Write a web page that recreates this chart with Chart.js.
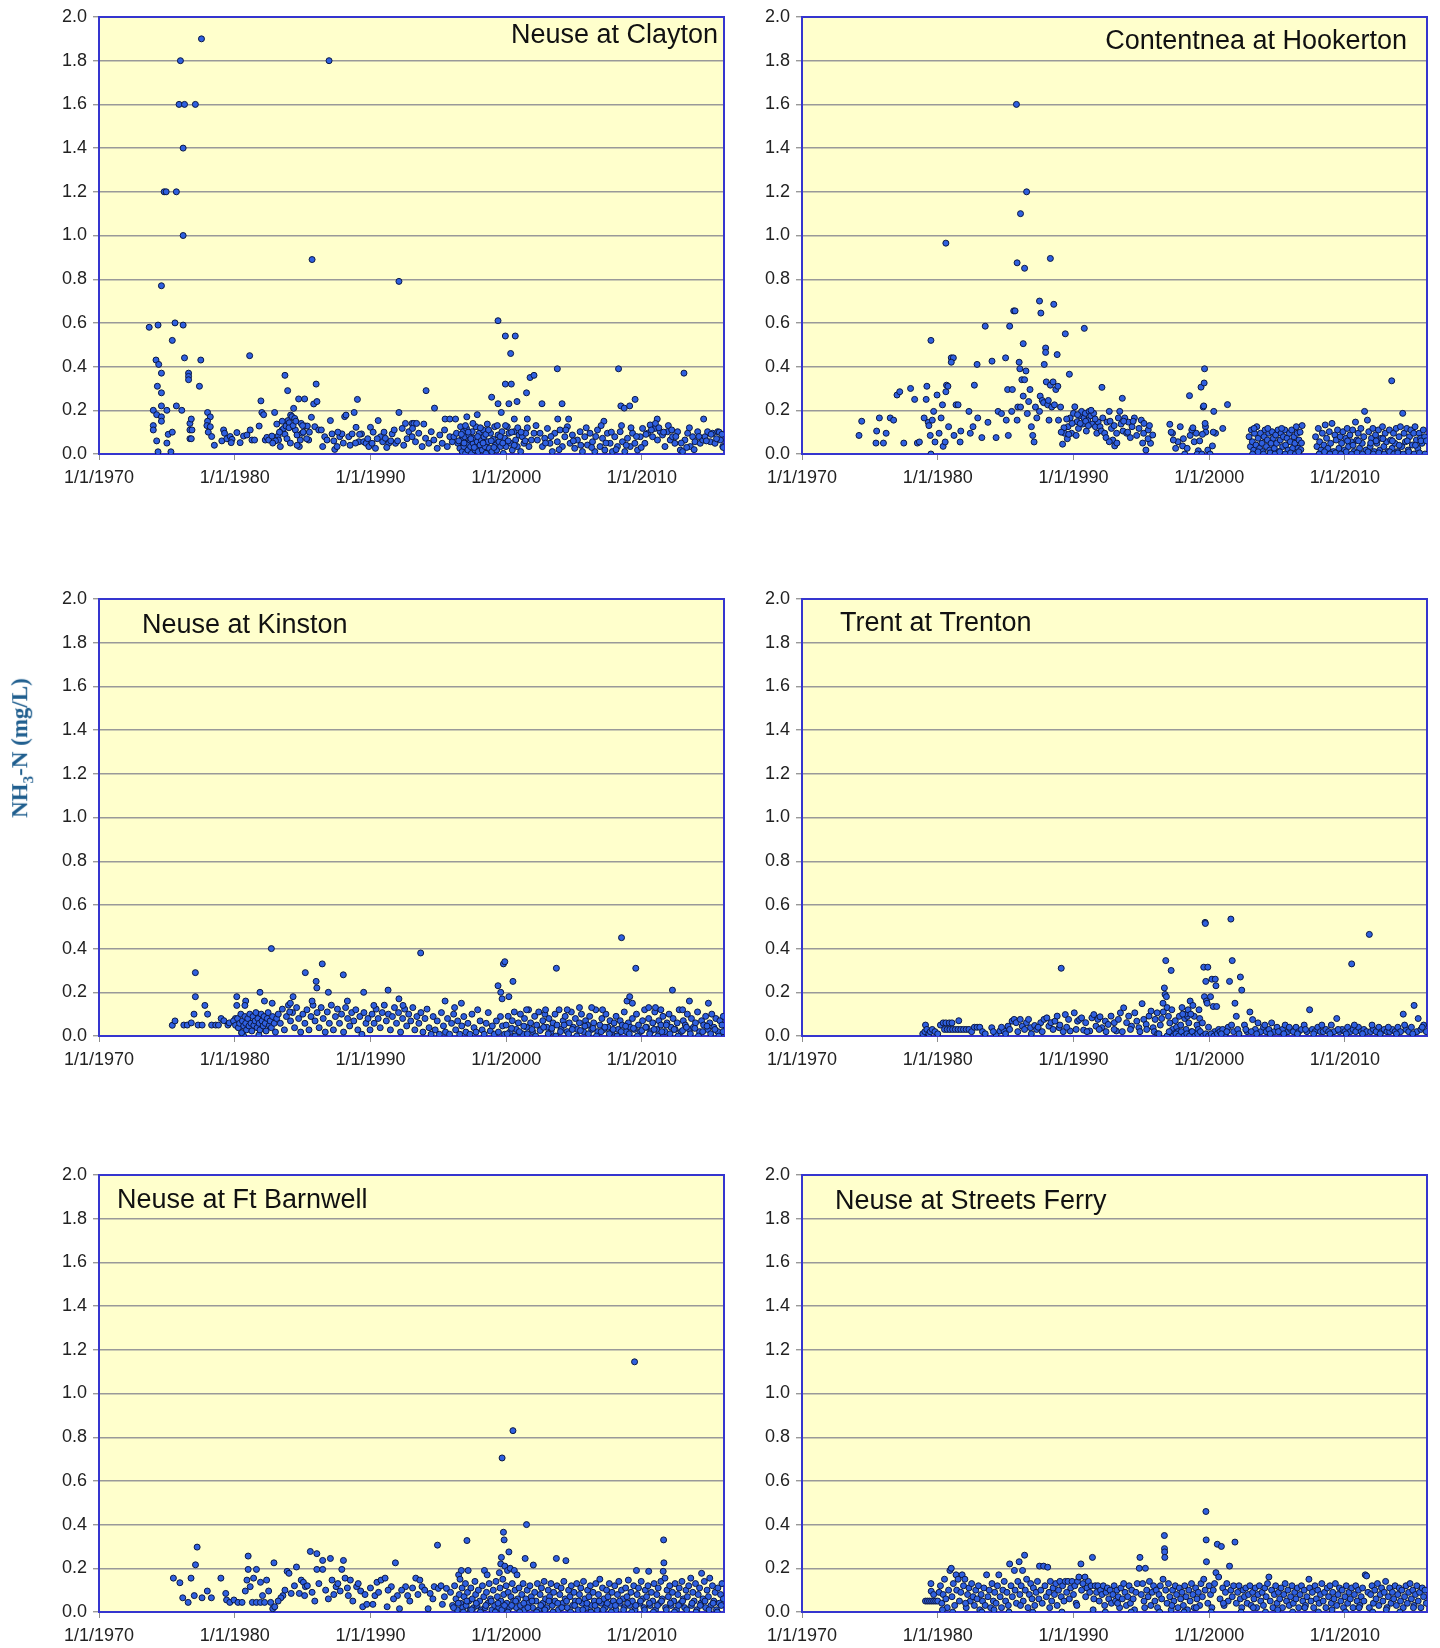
<!DOCTYPE html>
<html>
<head>
<meta charset="utf-8">
<title>NH3-N at six stations</title>
<script src="https://cdn.jsdelivr.net/npm/chart.js@4.4.1/dist/chart.umd.min.js"></script>
<style>
  body { margin: 0; background: #fff; width: 1440px; height: 1648px; overflow: hidden; position: relative; }
  canvas { position: absolute; }
  #ylab {
    position: absolute; left: 22px; top: 748px;
    transform: translate(-50%, -50%) rotate(-90deg);
    font: bold 23px "Liberation Serif", "Times New Roman", serif;
    color: #1f5e8e; white-space: nowrap;
  }
  #ylab sub { font-size: 0.65em; }
</style>
</head>
<body>
<canvas id="c1" width="730" height="490" style="left:0;top:0"></canvas>
<canvas id="c2" width="710" height="490" style="left:730px;top:0"></canvas>
<canvas id="c3" width="730" height="490" style="left:0;top:582px"></canvas>
<canvas id="c4" width="710" height="490" style="left:730px;top:582px"></canvas>
<canvas id="c5" width="730" height="490" style="left:0;top:1158px"></canvas>
<canvas id="c6" width="710" height="490" style="left:730px;top:1158px"></canvas>
<div id="ylab">NH<sub>3</sub>-N (mg/L)</div>
<script>
// axis ranges and tick labels
const xMin = 1970
const xMax = 2016.05
const xTickYears = [1970, 1980, 1990, 2000, 2010]
const yTickValues = [0, 0.2, 0.4, 0.6, 0.8, 1.0, 1.2, 1.4, 1.6, 1.8, 2.0]

// [decimal year, mg/L]
const claytonPts = [
  [1973.7,0.58],[1974.35,0.59],[1974.6,0.77],[1974.8,1.2],[1974.95,1.2],[1975.7,1.2],[1976.0,1.8],[1975.9,1.6],[1976.3,1.6],[1977.1,1.6],[1976.2,1.4],[1976.2,1.0],[1977.55,1.9],[1975.6,0.6],[1976.2,0.59],[1975.4,0.52],
  [1974.2,0.43],[1974.4,0.41],[1974.6,0.37],[1974.3,0.31],[1974.6,0.28],[1976.3,0.44],[1977.5,0.43],[1976.6,0.37],[1976.6,0.355],[1976.6,0.34],[1977.4,0.31],
  [1974.6,0.22],[1975.7,0.22],[1976.1,0.2],[1974.0,0.2],[1974.25,0.18],[1974.6,0.17],[1974.6,0.15],[1975.0,0.2],[1974.0,0.13],[1974.0,0.11],[1975.1,0.09],[1975.4,0.1],[1974.25,0.06],[1975.0,0.05],[1974.35,0.01],[1975.3,0.01],
  [1976.7,0.14],[1976.8,0.16],[1976.7,0.11],[1976.85,0.11],[1976.7,0.07],[1976.8,0.07],
  [1978.0,0.19],[1978.2,0.17],[1978.0,0.15],[1977.95,0.13],[1978.2,0.125],[1978.05,0.10],[1978.3,0.08],[1978.5,0.04],
  [1979.18,0.11],[1979.25,0.095],[1979.05,0.06],[1979.42,0.07],[1979.67,0.08],[1979.8,0.067],[1979.74,0.052],[1980.16,0.098],[1980.4,0.052],[1980.65,0.082],[1980.9,0.087],[1981.14,0.11],[1981.27,0.064],[1981.46,0.064],[1981.8,0.128],[1981.93,0.243],[1982.0,0.19],[1982.13,0.18],[1982.25,0.064],[1982.37,0.076],[1982.5,0.064],[1982.74,0.082],[1982.94,0.19],[1983.1,0.137],[1983.2,0.082],[1983.23,0.064],[1983.36,0.034],[1983.48,0.11],[1983.6,0.117],[1983.78,0.128],[1983.92,0.153],[1984.02,0.143],[1984.12,0.178],[1984.22,0.171],[1984.34,0.209],[1984.42,0.163],[1984.47,0.11],[1984.59,0.087],[1984.71,0.252],[1984.76,0.034],[1984.83,0.064],[1984.96,0.095],[1985.15,0.252],[1985.2,0.128],[1985.35,0.128],[1985.45,0.064],[1985.65,0.168],[1985.82,0.229],[1985.9,0.125],[1986.06,0.24],[1986.19,0.11],[1986.38,0.11],[1986.48,0.034],[1986.63,0.079],[1986.8,0.064],[1987.05,0.153],[1987.17,0.092],[1987.37,0.021],[1987.54,0.034],[1987.74,0.079],[1987.9,0.092],[1988.1,0.171],[1988.2,0.178],[1988.4,0.079],[1988.65,0.092],[1988.8,0.19],[1988.94,0.122],[1989.04,0.25],[1989.14,0.056],[1989.34,0.092],[1989.5,0.056],[1989.68,0.049],[1989.88,0.034],[1990.0,0.122],[1990.12,0.049],[1990.37,0.026],[1990.57,0.153],[1990.74,0.079],[1990.9,0.056],[1991.1,0.072],[1991.35,0.049],[1991.6,0.092],[1991.85,0.049],[1992.1,0.19],[1992.34,0.117],[1992.58,0.14],[1992.83,0.102],[1993.07,0.14],
  [1981.1,0.45],[1983.7,0.36],[1983.9,0.29],[1986.0,0.32],[1985.7,0.89],[1986.95,1.8],[1992.1,0.79],
  [1983.5,0.15],[1983.7,0.09],[1983.85,0.07],[1984.0,0.12],[1984.1,0.05],[1984.3,0.13],[1984.5,0.15],[1984.6,0.04],[1984.9,0.14],[1985.05,0.1],[1985.3,0.07],[1985.5,0.1],[1985.0,0.13],[1983.3,0.1],[1983.0,0.06],[1982.8,0.05],
  [1987.3,0.06],[1987.6,0.1],[1988.0,0.05],[1988.5,0.04],[1988.9,0.05],[1989.2,0.09],[1989.8,0.07],[1990.2,0.1],[1990.5,0.07],[1991.0,0.1],[1991.2,0.03],[1991.5,0.06],[1991.75,0.11],[1992.0,0.06],[1992.45,0.04],[1992.7,0.07],
  [1993.07,0.079],[1993.32,0.056],[1993.56,0.095],[1993.81,0.034],[1994.06,0.072],[1994.3,0.049],[1994.48,0.102],[1994.67,0.064],[1994.92,0.026],[1995.11,0.087],[1995.29,0.049],[1995.46,0.11],[1995.66,0.034],[1995.85,0.079],[1996.03,0.056],[1993.93,0.137],
  [1994.1,0.29],[1994.72,0.21],[1993.2,0.14],[1993.4,0.14],[1993.1,0.117],[1995.5,0.16],[1995.85,0.16],[1996.27,0.16],[1997.1,0.17],[1997.87,0.18],
  [1996.15,0.079],[1996.34,0.095],[1996.44,0.049],[1996.59,0.026],[1996.64,0.125],[1996.69,0.064],[1996.76,0.011],[1996.84,0.102],[1996.89,0.034],[1996.94,0.079],[1997.01,0.003],[1997.08,0.117],[1997.13,0.049],[1997.18,0.018],[1997.25,0.087],[1997.33,0.064],[1997.38,0.034],[1997.45,0.003],[1997.5,0.102],[1997.57,0.049],[1997.62,0.072],[1997.7,0.018],[1997.77,0.125],[1997.82,0.034],[1997.87,0.056],[1997.94,0.011],[1998.02,0.095],[1998.07,0.041],[1998.17,0.064],[1998.24,0.018],[1998.31,0.11],[1998.36,0.079],[1998.44,0.034],[1998.51,0.003],[1998.61,0.137],[1998.66,0.056],[1998.76,0.026],[1998.85,0.095],[1998.95,0.011],[1999.05,0.067],[1999.15,0.125],[1999.22,0.041],[1999.3,0.018],[1999.4,0.087],[1999.47,0.056],[1999.59,0.034],[1999.69,0.102],[1999.79,0.003],[1999.89,0.072],[1999.99,0.034],[2000.08,0.125],[2000.21,0.095],[2000.33,0.049],[2000.45,0.018],[2000.58,0.102],[2000.7,0.064],[2000.82,0.034],[2000.95,0.087],[2001.07,0.011],[2001.19,0.079],[2001.31,0.049],[2001.44,0.095],[2001.68,0.034],[2001.86,0.064],[2002.05,0.095],
  [1996.5,0.06],[1996.7,0.09],[1996.9,0.05],[1997.0,0.13],[1997.2,0.1],[1997.4,0.07],[1997.55,0.14],[1997.65,0.03],[1997.9,0.08],[1998.1,0.12],[1998.3,0.05],[1998.5,0.09],[1998.7,0.11],[1998.9,0.06],[1999.1,0.03],[1999.35,0.13],[1999.55,0.08],[1999.75,0.05],[1999.95,0.13],[2000.15,0.06],[2000.4,0.1],[2000.6,0.04],[2000.85,0.12],[2001.1,0.1],[2001.4,0.06],
  [1999.4,0.61],[1999.94,0.54],[2000.67,0.54],[2000.33,0.46],[1999.94,0.32],[2000.38,0.32],[1998.93,0.26],[1999.4,0.23],[2000.2,0.23],[2000.8,0.24],[1999.64,0.19],[2001.5,0.28],[2001.76,0.35],[2002.05,0.36],[2002.64,0.23],[2003.77,0.39],[2004.12,0.23],[2008.28,0.39],[2008.45,0.22],[2008.7,0.21],[2009.1,0.22],[2009.5,0.25],[2013.1,0.37],[2014.55,0.16],[2011.13,0.16],[2007.2,0.15],[2004.6,0.16],[2003.8,0.16],[2001.56,0.16],[2001.56,0.12],[2000.6,0.16],
  [2002.3,0.064],[2002.5,0.095],[2002.67,0.034],[2002.84,0.072],[2003.04,0.117],[2003.23,0.049],[2003.4,0.011],[2003.58,0.095],[2003.77,0.056],[2003.97,0.11],[2004.14,0.034],[2004.32,0.079],[2004.51,0.125],[2004.71,0.049],[2004.88,0.087],[2005.05,0.026],[2005.25,0.064],[2005.45,0.102],[2005.62,0.011],[2005.79,0.079],[2005.99,0.041],[2006.18,0.095],[2006.36,0.056],[2006.53,0.011],[2006.73,0.11],[2006.92,0.034],[2007.1,0.072],[2007.27,0.018],[2007.46,0.095],[2007.66,0.049],[2007.83,0.011],[2008.0,0.079],[2008.2,0.034],[2008.4,0.102],[2008.57,0.056],[2008.74,0.011],[2008.94,0.072],[2009.14,0.034],[2009.31,0.095],[2009.48,0.049],[2009.68,0.018],[2009.88,0.079],[2010.05,0.117],[2010.22,0.049],[2010.42,0.095],[2010.61,0.133],[2010.79,0.079],[2010.96,0.117],[2011.15,0.064],[2011.35,0.102],[2011.52,0.087],[2011.7,0.034],[2011.89,0.102],[2012.09,0.064],[2012.26,0.079],[2012.43,0.049],[2012.63,0.102],[2012.83,0.018],[2013.0,0.011],[2013.17,0.064],[2013.37,0.095],[2013.57,0.034],[2013.74,0.079],[2013.91,0.056],[2014.11,0.102],[2014.3,0.049],[2014.48,0.064],[2014.65,0.079],[2014.84,0.102],[2015.04,0.056],[2015.21,0.095],[2015.39,0.049],[2015.59,0.102],[2015.79,0.064],[2015.96,0.034],
  [2002.2,0.13],[2002.9,0.05],[2003.3,0.08],[2003.9,0.02],[2004.4,0.11],[2004.95,0.06],[2005.5,0.04],[2005.9,0.12],[2006.3,0.03],[2006.6,0.08],[2007.0,0.13],[2007.35,0.05],[2007.75,0.1],[2008.1,0.02],[2008.5,0.13],[2008.85,0.04],[2009.2,0.12],[2009.6,0.08],[2009.95,0.03],[2010.3,0.09],[2010.7,0.11],[2011.0,0.14],[2011.25,0.12],[2011.6,0.1],[2011.95,0.13],[2012.2,0.11],[2012.5,0.08],[2012.9,0.05],[2013.3,0.03],[2013.5,0.12],[2013.85,0.02],[2014.2,0.08],[2014.75,0.06],[2015.1,0.09],[2015.5,0.07],[2015.7,0.1],[2015.9,0.09],[2016.0,0.03]
]

const contentneaPts = [
  [1974.2,0.085],[1974.4,0.15],[1975.5,0.105],[1975.45,0.05],[1975.7,0.165],[1976.0,0.05],[1976.2,0.095],[1976.5,0.165],[1976.75,0.155],[1977.0,0.27],[1977.2,0.285],[1977.5,0.05],[1978.0,0.30],[1978.3,0.25],[1978.5,0.05],[1978.65,0.055],[1979.0,0.165],[1979.2,0.31],[1979.15,0.25],[1979.3,0.145],[1979.35,0.13],[1979.45,0.085],[1979.5,0.0],[1979.5,0.52],[1979.6,0.155],[1979.7,0.195],[1979.8,0.055],[1979.95,0.27],[1980.1,0.095],[1980.25,0.165],[1980.35,0.225],[1980.4,0.035],[1980.55,0.055],[1980.6,0.285],[1980.65,0.315],[1980.75,0.31],[1980.8,0.125],[1980.6,0.965],[1981.0,0.44],[1981.15,0.44],[1981.0,0.42],[1981.2,0.085],[1981.35,0.225],[1981.5,0.225],[1981.65,0.055],[1981.7,0.105],[1982.3,0.195],[1982.4,0.095],[1982.6,0.125],[1982.7,0.315],[1982.9,0.41],[1982.95,0.165],[1983.25,0.075],[1983.5,0.585],[1983.7,0.145],[1984.0,0.425],[1984.3,0.075],[1984.45,0.195],[1984.7,0.185],[1985.0,0.44],[1985.05,0.155],[1985.15,0.295],[1985.2,0.085],[1985.3,0.585],[1985.5,0.295],[1985.45,0.195],[1985.6,0.655],[1985.7,0.655],[1985.8,1.6],[1985.85,0.875],[1985.85,0.155],[1985.9,0.215],[1986.0,0.42],[1986.05,0.39],[1986.1,0.215],[1986.2,0.34],[1986.3,0.265],[1986.1,1.1],[1986.3,0.505],[1986.4,0.85],[1986.5,0.38],[1986.4,0.34],[1986.55,1.2],[1986.6,0.185],[1986.7,0.24],[1986.8,0.295],[1986.9,0.125],[1987.0,0.085],[1987.1,0.055],[1987.2,0.215],[1987.3,0.165],[1987.5,0.195],[1987.55,0.265],[1987.5,0.70],[1987.6,0.645],[1987.7,0.245],[1987.8,0.235],[1987.85,0.41],[1987.95,0.485],[1987.95,0.465],[1988.0,0.33],[1988.1,0.225],[1988.15,0.245],[1988.2,0.155],[1988.3,0.315],[1988.4,0.215],[1988.5,0.33],[1988.3,0.895],[1988.55,0.685],[1988.6,0.225],[1988.7,0.295],[1988.8,0.455],[1988.85,0.31],[1988.9,0.155],[1989.05,0.215],[1989.2,0.045],[1989.35,0.095],[1989.4,0.55],[1989.7,0.365],[1990.8,0.575],[1992.1,0.305],[1993.6,0.255],
  [1989.6,0.125],[1989.76,0.165],[1989.86,0.095],[1990.0,0.186],[1990.1,0.216],[1990.2,0.085],[1990.27,0.148],[1990.37,0.117],[1990.47,0.175],[1990.6,0.195],[1990.68,0.137],[1990.78,0.165],[1990.88,0.186],[1990.95,0.105],[1991.05,0.155],[1991.15,0.195],[1991.28,0.175],[1991.39,0.137],[1991.49,0.186],[1991.62,0.125],[1991.72,0.095],[1991.82,0.146],[1991.96,0.125],[1992.06,0.105],[1992.16,0.165],[1992.3,0.095],[1992.4,0.075],[1992.47,0.146],
  [1989.9,0.14],[1990.3,0.18],[1990.5,0.14],[1990.9,0.15],[1991.1,0.13],[1991.3,0.2],[1991.6,0.16],[1989.5,0.16],[1989.3,0.12],[1989.1,0.1],[1989.55,0.07],[1989.65,0.09],
  [1992.64,0.195],[1992.8,0.117],[1992.9,0.064],[1993.04,0.037],[1993.18,0.095],[1993.31,0.165],[1993.41,0.195],[1993.51,0.137],[1993.65,0.105],[1993.78,0.165],[1993.92,0.095],[1994.05,0.146],[1994.19,0.075],[1994.32,0.125],[1994.49,0.165],[1994.66,0.085],[1994.83,0.117],[1995.0,0.155],[1995.17,0.095],[1995.34,0.018],[1995.51,0.11],[1995.68,0.049],[1995.84,0.087],[1992.64,0.056],
  [1993.0,0.13],[1993.7,0.15],[1994.0,0.1],[1994.4,0.15],[1995.2,0.14],[1995.6,0.13],[1995.5,0.07],[1995.1,0.05],[1992.7,0.15],[1993.2,0.05],
  [1997.1,0.136],[1997.3,0.095],[1997.53,0.026],[1997.7,0.056],[1997.87,0.125],[1998.04,0.037],[1998.2,0.0],[1998.55,0.267],[1998.6,0.085],[1998.9,0.056],[1999.05,0.095],[1999.2,0.015],[1999.4,0.306],[1999.56,0.215],[1999.63,0.325],[1999.66,0.39],[1999.6,0.22],[1999.73,0.125],[1999.9,0.018],[2000.07,0.0],[2000.24,0.037],[2000.34,0.195],[2000.47,0.095],[2001.0,0.117],[2001.35,0.226],[1997.36,0.064],[1998.38,0.026],[1998.72,0.11],[1999.12,0.0],[1999.46,0.0],[1999.7,0.14],[1999.75,0.1],[2000.3,0.1],[1997.2,0.1],[1998.1,0.07],[1998.8,0.12],[1999.3,0.06],[1999.5,0.09],
  [2002.94,0.079],[2003.04,0.034],[2003.11,0.110],[2003.18,0.056],[2003.28,0.018],[2003.34,0.095],[2003.45,0.041],[2003.51,0.125],[2003.61,0.072],[2003.72,0.026],[2003.78,0.095],[2003.89,0.049],[2003.95,0.011],[2004.05,0.079],[2004.12,0.110],[2004.22,0.034],[2004.29,0.064],[2004.39,0.095],[2004.46,0.018],[2004.56,0.049],[2004.63,0.102],[2004.73,0.072],[2004.8,0.026],[2004.9,0.087],[2004.97,0.049],[2005.07,0.110],[2005.14,0.011],[2005.24,0.064],[2005.3,0.095],[2005.41,0.034],[2005.47,0.079],[2005.57,0.110],[2005.64,0.041],[2005.74,0.072],[2005.81,0.018],[2005.91,0.095],[2005.98,0.056],[2006.08,0.110],[2006.15,0.026],[2006.25,0.079],[2006.32,0.049],[2006.42,0.125],[2006.49,0.095],[2006.55,0.026],[2006.62,0.064],[2003.31,0.117],[2004.32,0.117],[2005.34,0.117],
  [2006.7,0.1],[2006.8,0.05],[2006.85,0.13],[2006.75,0.02],[2003.2,0.0],[2003.6,0.01],[2004.0,0.0],[2004.5,0.005],[2004.85,0.0],[2005.2,0.01],[2005.6,0.0],[2006.0,0.005],[2006.35,0.0],[2006.6,0.01],
  [2007.84,0.079],[2007.94,0.034],[2008.04,0.117],[2008.14,0.056],[2008.24,0.018],[2008.34,0.095],[2008.45,0.041],[2008.55,0.133],[2008.65,0.072],[2008.75,0.026],[2008.85,0.102],[2008.95,0.049],[2009.05,0.14],[2009.16,0.011],[2009.26,0.087],[2009.36,0.064],[2009.46,0.11],[2009.56,0.026],[2009.66,0.079],[2009.76,0.049],[2009.86,0.102],[2009.97,0.018],[2010.07,0.072],[2010.17,0.117],[2010.27,0.034],[2010.37,0.087],[2010.47,0.056],[2010.57,0.11],[2010.68,0.011],[2010.78,0.146],[2010.88,0.064],[2010.98,0.095],[2011.08,0.026],[2011.18,0.117],[2011.28,0.049],[2011.39,0.079],[2011.45,0.195],[2011.55,0.018],[2011.66,0.155],[2011.76,0.102],[2011.86,0.034],[2011.96,0.072],[2012.06,0.117],[2012.16,0.011],[2012.26,0.087],[2012.36,0.049],[2012.47,0.11],[2012.57,0.018],[2012.67,0.072],[2012.77,0.125],[2012.87,0.034],[2012.97,0.095],[2013.07,0.056],[2013.18,0.011],[2013.28,0.11],[2013.38,0.064],[2013.45,0.335],[2013.48,0.026],[2013.58,0.095],[2013.68,0.049],[2013.78,0.117],[2013.89,0.011],[2013.99,0.079],[2014.09,0.125],[2014.19,0.034],[2014.26,0.186],[2014.36,0.095],[2014.46,0.056],[2014.56,0.117],[2014.66,0.018],[2014.76,0.079],[2014.86,0.11],[2014.97,0.041],[2015.07,0.095],[2015.17,0.125],[2015.27,0.064],[2015.37,0.026],[2015.47,0.095],[2015.57,0.072],[2015.68,0.049],[2015.78,0.11],[2015.88,0.079],
  [2008.1,0.0],[2008.5,0.01],[2008.9,0.0],[2009.3,0.005],[2009.7,0.0],[2010.1,0.01],[2010.5,0.0],[2010.9,0.005],[2011.3,0.0],[2011.7,0.01],[2012.1,0.0],[2012.5,0.005],[2012.9,0.0],[2013.3,0.01],[2013.6,0.0],[2013.9,0.005],[2014.3,0.0],[2014.7,0.01],[2015.1,0.0],[2015.5,0.005],[2015.9,0.0],
  [2010.2,0.06],[2010.6,0.04],[2011.0,0.06],[2011.9,0.05],[2012.3,0.06],[2012.8,0.07],[2013.5,0.06],[2014.0,0.04],[2014.6,0.06],[2015.2,0.04],[2015.6,0.06],[2016.0,0.06]
]

const kinstonPts = [
  [1975.4,0.049],[1975.6,0.069],[1976.25,0.05],[1976.5,0.05],[1976.8,0.06],[1977.0,0.1],[1977.1,0.18],[1977.1,0.29],[1977.3,0.05],[1977.6,0.05],[1977.8,0.14],[1978.0,0.1],[1978.3,0.05],[1978.6,0.05],[1978.8,0.05],[1979.0,0.08],[1979.2,0.07],[1979.5,0.05],[1979.6,0.06],
  [1980.15,0.18],[1980.15,0.14],[1980.05,0.08],[1980.27,0.04],[1980.51,0.015],[1980.66,0.0],[1980.81,0.16],[1980.75,0.14],[1981.86,0.2],[1981.78,0.005],[1982.19,0.16],[1982.76,0.15],[1982.7,0.40],
  [1979.91,0.069],[1980.06,0.049],[1980.21,0.08],[1980.27,0.038],[1980.36,0.058],[1980.45,0.1],[1980.51,0.015],[1980.57,0.069],[1980.66,0.046],[1980.75,0.089],[1980.81,0.058],[1980.87,0.028],[1980.96,0.08],[1981.05,0.046],[1981.11,0.1],[1981.2,0.058],[1981.26,0.023],[1981.35,0.089],[1981.41,0.049],[1981.5,0.069],[1981.56,0.107],[1981.65,0.038],[1981.71,0.08],[1981.8,0.058],[1981.86,0.028],[1981.95,0.1],[1982.01,0.069],[1982.1,0.046],[1982.16,0.089],[1982.25,0.058],[1982.31,0.023],[1982.4,0.08],[1982.46,0.107],[1982.55,0.049],[1982.61,0.069],[1982.7,0.038],[1982.79,0.089],[1982.91,0.058],[1983.0,0.018],[1983.09,0.08],
  [1983.21,0.1],[1983.36,0.058],[1983.51,0.123],[1983.66,0.028],[1983.81,0.089],[1983.96,0.141],[1984.11,0.069],[1984.26,0.107],[1984.41,0.038],[1984.56,0.13],[1984.71,0.08],[1984.86,0.018],[1985.02,0.1],[1985.17,0.058],[1985.32,0.12],[1985.47,0.028],[1985.62,0.089],[1985.77,0.141],[1985.92,0.069],[1986.07,0.107],[1986.22,0.038],[1986.37,0.13],[1986.52,0.08],[1986.67,0.018],[1986.82,0.11],[1986.97,0.058],[1987.12,0.141],[1987.27,0.028],[1987.42,0.089],[1987.57,0.123],[1987.72,0.058],[1987.87,0.1],[1988.02,0.018],[1988.17,0.13],[1988.32,0.08],[1988.47,0.046],[1988.62,0.107],[1988.77,0.069],[1988.92,0.12],[1989.07,0.028],[1989.22,0.089],[1989.37,0.008],[1989.52,0.107],[1989.67,0.058],[1989.82,0.08],[1989.97,0.028],
  [1984.3,0.18],[1984.1,0.15],[1984.05,0.11],[1985.2,0.29],[1985.7,0.16],[1986.0,0.25],[1986.05,0.22],[1986.45,0.33],[1986.9,0.2],[1988.0,0.28],[1988.3,0.16],[1989.5,0.2],
  [1990.12,0.1],[1990.27,0.058],[1990.42,0.123],[1990.57,0.08],[1990.72,0.038],[1990.87,0.107],[1991.02,0.141],[1991.17,0.069],[1991.32,0.1],[1991.47,0.028],[1991.62,0.089],[1991.77,0.13],[1991.92,0.058],[1992.07,0.107],[1992.22,0.018],[1992.37,0.08],[1992.52,0.123],[1992.67,0.046],[1992.82,0.1],[1992.97,0.069],[1993.12,0.13],[1993.27,0.028],[1993.42,0.089],[1993.57,0.058],[1993.72,0.107],[1993.87,0.018],[1994.02,0.08],[1994.17,0.123],[1994.32,0.038],[1994.47,0.008],[1994.62,0.089],[1994.77,0.028],[1994.92,0.069],[1995.08,0.008],[1995.23,0.107],[1995.38,0.046],[1995.53,0.018],[1995.68,0.08],[1995.83,0.008],[1995.98,0.058],[1996.13,0.1],[1996.28,0.028],[1996.43,0.069],[1996.58,0.008],[1996.73,0.046],[1996.88,0.089],[1997.03,0.018],[1997.18,0.058],[1997.33,0.008],[1997.48,0.1],[1997.63,0.038],[1997.78,0.018],[1998.08,0.069],[1998.23,0.028],[1998.38,0.008],[1998.53,0.058],[1998.68,0.107],[1998.83,0.023],[1998.98,0.046],[1999.13,0.008],[1999.28,0.069],[1999.43,0.018],[1999.58,0.089],[1999.73,0.046],[1999.88,0.008],
  [1990.25,0.14],[1991.3,0.21],[1992.1,0.17],[1992.4,0.14],[1993.7,0.38],[1995.5,0.16],[1996.2,0.13],[1996.7,0.15],[1997.9,0.12],[1999.4,0.23],[1999.6,0.2],[1999.7,0.17],[1999.8,0.33],[1999.9,0.34],[2000.2,0.18],[2000.5,0.25],
  [2000.0,0.05],[2000.15,0.09],[2000.3,0.02],[2000.45,0.07],[2000.6,0.11],[2000.75,0.03],[2000.9,0.06],[2001.05,0.1],[2001.2,0.01],[2001.35,0.08],[2001.5,0.04],[2001.65,0.12],[2001.8,0.06],[2001.95,0.02],[2002.1,0.09],[2002.25,0.05],[2002.4,0.11],[2002.55,0.03],[2002.7,0.07],[2002.85,0.1],[2003.0,0.04],[2003.15,0.08],[2003.3,0.02],[2003.45,0.06],[2003.6,0.1],[2003.75,0.05],[2003.9,0.12],[2004.05,0.03],[2004.2,0.07],[2004.35,0.09],[2004.5,0.02],[2004.65,0.06],[2004.8,0.11],[2004.95,0.04],[2005.1,0.08],[2005.25,0.03],[2005.4,0.06],[2005.55,0.1],[2005.7,0.02],[2005.85,0.07],[2006.0,0.05],[2006.15,0.09],[2006.3,0.03],[2006.45,0.06],[2006.6,0.12],[2006.75,0.02],[2006.9,0.05],[2007.05,0.08],[2007.2,0.03],[2007.35,0.1],[2007.5,0.04],[2007.65,0.07],[2007.8,0.02],[2007.95,0.06],[2008.1,0.09],[2008.25,0.03],[2008.4,0.07],[2008.55,0.05],[2008.7,0.11],[2008.85,0.02],[2009.0,0.06],[2009.15,0.04],[2009.3,0.08],[2009.45,0.03],[2009.6,0.1],[2009.75,0.05],[2009.9,0.02],[2010.05,0.07],[2010.2,0.12],[2010.35,0.04],[2010.5,0.08],[2010.65,0.02],[2010.8,0.06],[2010.95,0.11],[2011.1,0.03],[2011.25,0.07],[2011.4,0.05],[2011.55,0.09],[2011.7,0.02],[2011.85,0.06],[2012.0,0.1],[2012.15,0.04],[2012.3,0.08],[2012.45,0.03],[2012.6,0.06],[2012.75,0.12],[2012.9,0.02],[2013.05,0.07],[2013.2,0.05],[2013.35,0.1],[2013.5,0.03],[2013.65,0.08],[2013.8,0.04],[2013.95,0.06],[2014.1,0.11],[2014.25,0.02],[2014.4,0.07],[2014.55,0.05],[2014.7,0.09],[2014.85,0.03],[2015.0,0.06],[2015.15,0.1],[2015.3,0.04],[2015.45,0.08],[2015.6,0.02],[2015.75,0.07],[2015.9,0.05],[2016.0,0.09],
  [2003.7,0.31],[2008.5,0.45],[2009.55,0.31],[2008.9,0.16],[2009.1,0.18],[2009.3,0.15],[2012.25,0.21],[2013.5,0.16],[2014.9,0.15],[2001.5,0.12],[2002.9,0.12],[2004.5,0.12],[2005.4,0.13],[2006.3,0.13],[2007.1,0.12],[2010.5,0.13],[2011.0,0.13],[2011.4,0.12],[2013.0,0.12],
  [2000.08,0.01],[2000.4,0.035],[2000.66,0.0],[2000.97,0.02],[2001.3,0.045],[2001.56,0.01],[2001.9,0.03],[2002.17,0.0],[2002.5,0.025],[2002.76,0.04],[2003.1,0.01],[2003.37,0.035],[2003.66,0.0],[2004.0,0.02],[2004.27,0.05],[2004.6,0.01],[2004.87,0.03],[2005.2,0.0],[2005.47,0.025],[2005.8,0.045],[2006.06,0.01],[2006.4,0.035],[2006.66,0.0],[2007.0,0.02],[2007.27,0.04],[2007.6,0.01],[2007.88,0.03],[2008.17,0.0],[2008.47,0.02],[2008.8,0.045],[2009.07,0.01],[2009.38,0.035],[2009.67,0.0],[2010.0,0.025],[2010.28,0.04],[2010.57,0.01],[2010.9,0.03],[2011.17,0.0],[2011.47,0.02],[2011.8,0.05],[2012.07,0.01],[2012.38,0.03],[2012.67,0.0],[2013.0,0.025],[2013.28,0.04],[2013.57,0.01],[2013.9,0.035],[2014.17,0.0],[2014.48,0.02],[2014.8,0.045],[2015.07,0.01],[2015.38,0.03],[2015.67,0.0],[2015.98,0.02]
]

const trentPts = [
  [1978.9,0.01],[1979.05,0.02],[1979.1,0.05],[1979.2,0.03],[1979.35,0.01],[1979.45,0.02],[1979.6,0.03],[1979.8,0.02],[1980.0,0.01],[1980.2,0.05],[1980.4,0.06],[1980.6,0.06],[1980.85,0.06],[1981.05,0.06],[1981.55,0.07],
  [1980.5,0.03],[1980.7,0.03],[1980.9,0.03],[1981.1,0.03],[1981.3,0.03],[1981.5,0.03],[1981.7,0.03],[1981.9,0.03],[1982.1,0.03],[1982.3,0.03],[1982.5,0.02],[1982.7,0.04],[1982.9,0.04],[1983.1,0.04],[1983.3,0.02],[1983.5,0.01],
  [1983.98,0.038],[1984.3,0.008],[1984.58,0.023],[1984.88,0.023],[1985.18,0.045],[1985.48,0.068],[1985.63,0.076],[1985.78,0.061],[1986.08,0.076],[1986.23,0.045],[1986.54,0.061],[1986.69,0.076],[1986.84,0.038],[1987.14,0.048],[1987.29,0.03],[1987.59,0.061],[1987.83,0.076],[1988.04,0.083],[1988.19,0.045],[1988.34,0.061],[1988.64,0.068],[1988.8,0.091],[1988.95,0.038],[1989.1,0.31],[1989.4,0.098],[1989.64,0.076],[1989.76,0.023],[1990.06,0.106],[1990.3,0.068],[1990.45,0.076],[1990.6,0.083],[1990.75,0.027],
  [1984.1,0.02],[1984.7,0.04],[1985.0,0.01],[1985.3,0.03],[1985.9,0.02],[1986.4,0.03],[1986.9,0.01],[1987.4,0.04],[1987.7,0.02],[1988.5,0.03],[1989.0,0.05],[1989.25,0.02],[1989.5,0.04],[1990.2,0.03],
  [1990.9,0.061],[1991.2,0.023],[1991.36,0.083],[1991.5,0.098],[1991.66,0.045],[1991.8,0.076],[1991.96,0.088],[1992.1,0.038],[1992.35,0.068],[1992.56,0.053],[1992.77,0.091],[1993.01,0.061],[1993.16,0.023],[1993.31,0.076],[1993.46,0.106],[1993.7,0.129],[1993.92,0.061],[1994.07,0.091],[1994.28,0.045],[1994.52,0.106],[1994.67,0.068],[1994.82,0.038],[1995.06,0.148],[1995.18,0.076],[1995.36,0.053],[1995.57,0.091],[1995.72,0.114],[1995.87,0.038],[1996.02,0.076],[1996.17,0.106],
  [1991.0,0.02],[1991.9,0.03],[1992.4,0.02],[1993.0,0.03],[1993.6,0.02],[1994.2,0.03],[1994.9,0.02],[1995.4,0.03],[1995.95,0.02],
  [1996.2,0.01],[1996.3,0.01],[1996.4,0.05],[1996.5,0.08],[1996.6,0.15],[1996.62,0.11],[1996.7,0.22],[1996.75,0.19],[1996.8,0.345],[1996.85,0.18],[1996.9,0.13],[1997.0,0.09],[1997.1,0.06],[1997.2,0.30],[1997.25,0.12],[1997.3,0.03],[1997.4,0.01],[1997.5,0.07],[1997.6,0.04],[1997.7,0.02],[1997.8,0.09],[1997.9,0.05],[1998.0,0.13],[1998.1,0.01],[1998.2,0.08],[1998.3,0.03],[1998.4,0.09],[1998.5,0.06],[1998.6,0.16],[1998.7,0.02],[1998.8,0.14],[1998.9,0.09],[1999.0,0.01],[1999.1,0.05],[1999.2,0.03],[1999.3,0.08],[1999.4,0.01],[1999.5,0.06],[1999.6,0.315],[1999.65,0.18],[1999.7,0.52],[1999.72,0.515],[1999.75,0.25],[1999.8,0.16],[1999.85,0.15],[1999.9,0.315],[1999.95,0.04],[2000.1,0.18],[2000.2,0.26],[2000.3,0.135],[2000.45,0.26],[2000.5,0.23],[2000.55,0.135],[2000.4,0.02],[2000.7,0.03],[2001.5,0.25],[2001.6,0.535],[2001.7,0.345],[2001.9,0.15],[2002.0,0.09],[2002.3,0.27],[2002.4,0.21],[2003.0,0.11],[2003.2,0.075],
  [1996.9,0.0],[1997.05,0.02],[1997.35,0.0],[1997.55,0.01],[1997.75,0.0],[1997.95,0.02],[1998.15,0.0],[1998.35,0.01],[1998.55,0.0],[1998.75,0.02],[1998.95,0.0],[1999.15,0.01],[1999.35,0.02],[1999.55,0.0],[1999.75,0.01],[1999.95,0.0],[2000.15,0.01],[2000.35,0.0],[2000.6,0.01],[1998.25,0.1],[1998.45,0.12],[1998.65,0.1],[1999.25,0.12],[1998.05,0.1],
  [2000.8,0.02],[2001.0,0.03],[2001.2,0.01],[2001.4,0.04],[2001.8,0.02],[2002.1,0.03],[2002.6,0.05],[2002.8,0.02],[2003.4,0.03],[2003.6,0.06],[2003.8,0.02],[2004.0,0.04],[2004.2,0.02],[2004.4,0.03],[2004.6,0.06],[2004.8,0.02],[2005.0,0.04],[2005.2,0.02],[2005.4,0.03],[2005.6,0.05],[2005.8,0.02],[2006.0,0.03],[2006.2,0.02],[2006.4,0.04],[2006.6,0.02],[2006.8,0.03],[2007.0,0.05],[2007.2,0.02],[2007.4,0.12],[2007.6,0.03],[2007.8,0.02],[2008.0,0.04],[2008.2,0.02],[2008.4,0.02],[2008.6,0.03],[2008.8,0.02],[2009.0,0.05],[2009.2,0.02],[2009.4,0.08],[2009.6,0.02],[2009.8,0.03],[2010.0,0.02],[2010.2,0.04],[2010.4,0.02],[2010.5,0.33],[2010.6,0.03],[2010.8,0.02],[2011.0,0.04],[2011.2,0.02],[2011.4,0.03],[2011.6,0.02],[2011.8,0.465],[2011.9,0.02],[2012.1,0.03],[2012.3,0.02],[2012.5,0.04],[2012.7,0.02],[2012.9,0.03],[2013.1,0.02],[2013.3,0.02],[2013.5,0.03],[2013.7,0.02],[2013.9,0.04],[2014.1,0.02],[2014.3,0.10],[2014.5,0.03],[2014.7,0.02],[2014.9,0.04],[2015.1,0.14],[2015.3,0.02],[2015.4,0.08],[2015.6,0.03],[2015.8,0.05],[2016.0,0.02],
  [2000.9,0.01],[2001.3,0.02],[2001.65,0.05],[2002.2,0.01],[2002.7,0.03],[2003.1,0.02],[2003.5,0.01],[2004.1,0.05],[2004.5,0.01],[2005.1,0.02],[2005.5,0.01],[2005.9,0.04],[2006.5,0.01],[2007.1,0.03],[2007.7,0.01],[2008.3,0.05],[2008.9,0.01],[2009.5,0.03],[2010.1,0.01],[2010.7,0.05],[2011.3,0.01],[2012.0,0.05],[2012.6,0.01],[2013.2,0.04],[2013.8,0.01],[2014.4,0.05],[2015.0,0.01],[2015.7,0.04]
]

const barnwellPts = [
  [1975.48,0.155],[1975.96,0.134],[1976.78,0.155],[1976.17,0.065],[1976.57,0.044],[1977.02,0.075],[1977.11,0.216],[1977.23,0.297],[1977.59,0.065],[1977.98,0.096],[1978.28,0.065],[1978.98,0.155],[1979.34,0.085],[1979.4,0.055],[1979.64,0.044],[1979.94,0.055],[1980.24,0.044],[1980.54,0.044],
  [1980.99,0.256],[1980.99,0.195],[1981.6,0.195],[1980.9,0.146],[1981.39,0.155],[1981.14,0.116],[1980.78,0.096],[1981.9,0.136],[1982.35,0.146],[1982.5,0.096],[1982.05,0.075],[1981.3,0.044],[1981.6,0.044],[1981.9,0.044],[1982.2,0.044],[1982.65,0.044],[1982.89,0.225],[1982.8,0.015],[1982.95,0.024],
  [1983.86,0.186],[1984.0,0.177],[1984.55,0.206],[1984.16,0.085],[1983.55,0.075],[1983.4,0.065],[1984.9,0.146],[1985.06,0.136],[1985.21,0.116],[1984.76,0.085],[1985.15,0.075],[1985.57,0.277],[1986.05,0.267],[1986.48,0.236],[1987.05,0.245],[1988.01,0.236],[1986.05,0.195],[1986.48,0.195],[1987.89,0.195],
  [1987.17,0.146],[1987.47,0.116],[1987.77,0.096],[1988.13,0.155],[1988.52,0.146],[1988.37,0.075],[1988.98,0.116],[1989.28,0.096],[1989.43,0.024],[1989.73,0.035],[1990.18,0.035],[1990.33,0.075],[1990.48,0.136],[1990.78,0.146],[1991.08,0.155],[1991.23,0.024],[1991.54,0.116],[1991.84,0.225],[1992.14,0.015],[1991.99,0.075],[1992.59,0.116],[1992.74,0.075],[1993.34,0.155],[1993.64,0.146],[1993.8,0.116],[1994.25,0.015],[1994.4,0.085],[1994.7,0.116],[1995.0,0.108],[1995.3,0.035],[1995.6,0.108],[1994.94,0.306],[1997.11,0.327],
  [1985.35,0.12],[1985.7,0.09],[1986.2,0.13],[1986.7,0.1],[1986.9,0.06],[1987.3,0.08],[1987.6,0.13],[1988.3,0.11],[1988.7,0.05],[1989.1,0.13],[1989.6,0.08],[1990.0,0.11],[1990.6,0.09],[1991.3,0.1],[1991.7,0.06],[1992.3,0.1],[1992.9,0.05],[1993.1,0.11],[1993.5,0.08],[1994.0,0.1],[1994.6,0.06],[1995.2,0.12],[1995.45,0.07],[1983.2,0.05],[1983.7,0.1],[1984.4,0.12],[1985.9,0.05],
  [1995.9,0.09],[1996.05,0.03],[1996.2,0.12],[1996.3,0.06],[1996.4,0.01],[1996.5,0.17],[1996.55,0.08],[1996.6,0.15],[1996.65,0.04],[1996.7,0.19],[1996.75,0.11],[1996.8,0.02],[1996.9,0.07],[1997.0,0.13],[1997.05,0.03],[1997.15,0.09],[1997.2,0.19],[1997.25,0.05],[1997.35,0.01],[1997.4,0.11],[1997.5,0.06],[1997.6,0.02],[1997.7,0.14],[1997.75,0.08],[1997.85,0.03],[1997.95,0.1],[1998.05,0.05],[1998.15,0.01],[1998.25,0.12],[1998.35,0.07],[1998.4,0.19],[1998.45,0.02],[1998.55,0.09],[1998.6,0.17],[1998.65,0.04],[1998.75,0.13],[1998.85,0.06],[1998.95,0.01],[1999.05,0.1],[1999.15,0.03],[1999.25,0.14],[1999.35,0.07],[1999.45,0.02],[1999.5,0.18],[1999.55,0.11],[1999.6,0.22],[1999.62,0.05],[1999.65,0.25],[1999.7,0.705],[1999.75,0.15],[1999.8,0.365],[1999.82,0.08],[1999.85,0.33],[1999.9,0.21],[1999.95,0.01],[2000.0,0.12],[2000.05,0.04],[2000.1,0.19],[2000.15,0.09],[2000.2,0.275],[2000.25,0.02],[2000.3,0.2],[2000.35,0.07],[2000.45,0.13],[2000.5,0.83],[2000.55,0.05],[2000.6,0.19],[2000.65,0.1],[2000.75,0.02],[2000.8,0.17],[2000.85,0.06],[2000.95,0.11],
  [2001.05,0.03],[2001.15,0.08],[2001.25,0.13],[2001.35,0.01],[2001.4,0.245],[2001.45,0.06],[2001.5,0.40],[2001.55,0.1],[2001.65,0.04],[2001.75,0.12],[2001.85,0.07],[2001.95,0.02],[2002.0,0.215],[2002.1,0.09],[2002.2,0.05],[2002.3,0.13],[2002.4,0.01],[2002.5,0.08],[2002.6,0.11],[2002.7,0.04],[2002.8,0.14],[2002.9,0.06],[2003.0,0.02],[2003.1,0.1],[2003.2,0.07],[2003.3,0.13],[2003.4,0.03],[2003.5,0.09],[2003.6,0.05],[2003.7,0.245],[2003.75,0.12],[2003.85,0.01],[2003.95,0.08],[2004.05,0.11],[2004.15,0.04],[2004.25,0.14],[2004.35,0.06],[2004.4,0.235],[2004.5,0.02],[2004.6,0.1],[2004.7,0.07],[2004.8,0.12],[2004.9,0.03],[2005.0,0.09],[2005.1,0.05],[2005.2,0.13],[2005.3,0.01],[2005.4,0.08],[2005.5,0.11],[2005.6,0.04],[2005.7,0.14],[2005.8,0.06],[2005.9,0.02],[2006.0,0.1],[2006.1,0.07],[2006.2,0.12],[2006.3,0.03],[2006.4,0.09],[2006.5,0.05],[2006.6,0.13],[2006.7,0.01],[2006.8,0.08],[2006.9,0.15],[2007.0,0.04],[2007.1,0.11],[2007.2,0.06],[2007.3,0.02],[2007.4,0.1],[2007.5,0.07],[2007.6,0.13],[2007.7,0.03],[2007.8,0.09],[2007.9,0.05],[2008.0,0.12],[2008.1,0.01],[2008.2,0.08],[2008.3,0.14],[2008.4,0.04],[2008.5,0.1],[2008.6,0.06],[2008.7,0.02],[2008.8,0.11],[2008.9,0.07],
  [2009.0,0.146],[2009.1,0.03],[2009.2,0.09],[2009.3,0.05],[2009.4,0.12],[2009.46,1.145],[2009.5,0.01],[2009.6,0.19],[2009.65,0.08],[2009.75,0.11],[2009.85,0.04],[2009.95,0.14],[2010.05,0.06],[2010.15,0.02],[2010.25,0.1],[2010.35,0.07],[2010.45,0.12],[2010.5,0.186],[2010.6,0.03],[2010.7,0.09],[2010.8,0.05],[2010.9,0.13],[2011.0,0.01],[2011.1,0.08],[2011.2,0.11],[2011.3,0.04],[2011.4,0.14],[2011.5,0.06],[2011.57,0.186],[2011.6,0.33],[2011.62,0.225],[2011.7,0.155],[2011.75,0.02],[2011.85,0.1],[2011.95,0.07],[2012.05,0.12],[2012.15,0.03],[2012.25,0.09],[2012.35,0.05],[2012.45,0.13],[2012.55,0.01],[2012.65,0.08],[2012.75,0.11],[2012.85,0.04],[2012.95,0.14],[2013.05,0.06],[2013.15,0.02],[2013.25,0.1],[2013.35,0.07],[2013.45,0.12],[2013.6,0.155],[2013.65,0.03],[2013.75,0.09],[2013.85,0.05],[2013.95,0.13],[2014.05,0.01],[2014.15,0.08],[2014.25,0.11],[2014.35,0.04],[2014.4,0.177],[2014.5,0.06],[2014.6,0.14],[2014.7,0.02],[2014.8,0.1],[2014.9,0.07],[2015.0,0.155],[2015.1,0.03],[2015.2,0.12],[2015.3,0.05],[2015.4,0.09],[2015.5,0.01],[2015.6,0.11],[2015.7,0.04],[2015.8,0.08],[2015.9,0.13],[2016.0,0.06],
  [1996.12,0.02],[1996.47,0.04],[1996.85,0.0],[1997.1,0.05],[1997.45,0.01],[1997.8,0.04],[1998.1,0.0],[1998.5,0.03],[1998.9,0.05],[1999.2,0.0],[1999.4,0.04],[1999.68,0.01],[1999.88,0.03],[2000.12,0.0],[2000.4,0.03],[2000.7,0.05],[2001.0,0.0],[2001.3,0.04],[2001.6,0.02],[2001.9,0.05],[2002.25,0.0],[2002.55,0.03],[2002.85,0.01],[2003.15,0.05],[2003.45,0.0],[2003.8,0.04],[2004.1,0.02],[2004.45,0.05],[2004.75,0.0],[2005.05,0.03],[2005.35,0.05],[2005.65,0.01],[2005.95,0.04],[2006.25,0.0],[2006.55,0.03],[2006.85,0.05],[2007.15,0.01],[2007.45,0.04],[2007.75,0.0],[2008.05,0.03],[2008.35,0.05],[2008.65,0.01],[2008.95,0.04],[2009.25,0.0],[2009.55,0.03],[2009.9,0.05],[2010.2,0.01],[2010.55,0.04],[2010.85,0.0],[2011.15,0.03],[2011.45,0.05],[2011.8,0.01],[2012.1,0.04],[2012.4,0.0],[2012.7,0.03],[2013.0,0.05],[2013.3,0.01],[2013.7,0.04],[2014.0,0.0],[2014.3,0.03],[2014.65,0.05],[2014.95,0.01],[2015.25,0.04],[2015.55,0.0],[2015.85,0.03]
]

const streetsPts = [
  [1979.1,0.05],[1979.25,0.05],[1979.4,0.05],[1979.55,0.05],[1979.7,0.05],[1979.85,0.05],[1979.5,0.13],[1979.52,0.095],[1979.7,0.08],[1980.0,0.05],
  [1980.1,0.09],[1980.2,0.12],[1980.3,0.04],[1980.4,0.08],[1980.5,0.15],[1980.6,0.06],[1980.7,0.02],[1980.8,0.1],[1980.9,0.19],[1981.0,0.2],[1981.05,0.07],[1981.15,0.13],[1981.25,0.03],[1981.35,0.17],[1981.4,0.1],[1981.5,0.15],[1981.6,0.05],[1981.7,0.09],[1981.8,0.17],[1981.9,0.12],[1982.0,0.15],[1982.1,0.02],[1982.2,0.08],[1982.3,0.11],[1982.4,0.05],[1982.5,0.13],[1982.6,0.07],[1982.7,0.03],[1982.8,0.1],[1982.9,0.06],[1983.0,0.12],[1983.1,0.01],[1983.2,0.08],[1983.3,0.05],[1983.4,0.11],[1983.5,0.03],[1983.6,0.17],[1983.7,0.07],[1983.8,0.1],[1983.9,0.02],[1984.0,0.13],[1984.1,0.05],[1984.2,0.09],[1984.3,0.04],[1984.4,0.12],[1984.5,0.17],[1984.6,0.07],[1984.7,0.02],[1984.8,0.1],[1984.9,0.14],
  [1985.0,0.05],[1985.1,0.09],[1985.2,0.03],[1985.3,0.22],[1985.4,0.12],[1985.5,0.07],[1985.65,0.19],[1985.7,0.1],[1985.8,0.04],[1985.9,0.14],[1986.0,0.23],[1986.05,0.08],[1986.15,0.12],[1986.25,0.19],[1986.3,0.05],[1986.4,0.26],[1986.45,0.1],[1986.55,0.15],[1986.65,0.02],[1986.75,0.08],[1986.85,0.13],[1986.95,0.06],[1987.05,0.11],[1987.15,0.03],[1987.25,0.09],[1987.35,0.14],[1987.45,0.06],[1987.5,0.21],[1987.6,0.1],[1987.7,0.04],[1987.8,0.21],[1987.9,0.12],[1988.0,0.07],[1988.1,0.205],[1988.2,0.09],[1988.3,0.14],[1988.4,0.05],[1988.5,0.11],[1988.6,0.08],[1988.7,0.13],[1988.8,0.03],[1988.9,0.1],[1989.0,0.14],[1989.1,0.07],[1989.2,0.12],[1989.3,0.05],[1989.4,0.14],[1989.5,0.09],[1989.6,0.14],[1989.7,0.06],[1989.8,0.11],[1989.9,0.14],
  [1990.0,0.08],[1990.1,0.12],[1990.2,0.04],[1990.3,0.14],[1990.4,0.16],[1990.55,0.22],[1990.6,0.1],[1990.7,0.13],[1990.85,0.16],[1990.9,0.07],[1991.0,0.11],[1991.1,0.14],[1991.2,0.09],[1991.3,0.12],[1991.4,0.25],[1991.5,0.06],[1991.6,0.12],[1991.7,0.09],[1991.8,0.12],[1991.9,0.05],[1992.0,0.1],[1992.1,0.08],[1992.2,0.12],[1992.3,0.03],[1992.4,0.09],[1992.5,0.11],[1992.6,0.06],[1992.7,0.1],[1992.8,0.04],[1992.9,0.08],[1993.0,0.12],[1993.1,0.05],[1993.2,0.1],[1993.3,0.07],[1993.4,0.02],[1993.5,0.11],[1993.6,0.06],[1993.7,0.13],[1993.8,0.09],[1993.9,0.03],[1994.0,0.07],[1994.1,0.12],[1994.2,0.04],[1994.3,0.1],[1994.4,0.06],[1994.5,0.01],[1994.6,0.09],[1994.7,0.13],[1994.85,0.2],[1994.9,0.25],[1995.0,0.08],[1995.1,0.13],[1995.2,0.05],[1995.3,0.2],[1995.4,0.1],[1995.5,0.07],[1995.6,0.14],[1995.7,0.03],[1995.8,0.09],[1995.9,0.12],
  [1996.0,0.05],[1996.1,0.1],[1996.2,0.02],[1996.3,0.08],[1996.4,0.12],[1996.5,0.06],[1996.6,0.15],[1996.7,0.35],[1996.71,0.29],[1996.72,0.275],[1996.73,0.25],[1996.8,0.1],[1996.9,0.04],[1997.0,0.13],[1997.1,0.07],[1997.2,0.01],[1997.3,0.1],[1997.4,0.05],[1997.5,0.12],[1997.6,0.08],[1997.7,0.02],[1997.8,0.11],[1997.9,0.06],[1998.0,0.09],[1998.1,0.03],[1998.2,0.12],[1998.3,0.07],[1998.4,0.01],[1998.5,0.1],[1998.6,0.05],[1998.7,0.13],[1998.8,0.08],[1998.9,0.02],[1999.0,0.11],[1999.1,0.06],[1999.2,0.09],[1999.3,0.03],[1999.4,0.13],[1999.5,0.07],[1999.6,0.15],[1999.7,0.1],[1999.76,0.46],[1999.78,0.33],[1999.8,0.23],[1999.9,0.04],
  [2000.0,0.12],[2000.1,0.08],[2000.2,0.02],[2000.3,0.1],[2000.4,0.13],[2000.5,0.18],[2000.6,0.31],[2000.7,0.16],[2000.8,0.06],[2000.9,0.30],[2001.0,0.11],[2001.1,0.03],[2001.2,0.09],[2001.3,0.13],[2001.4,0.05],[2001.5,0.21],[2001.6,0.1],[2001.7,0.07],[2001.8,0.12],[2001.9,0.32],[2002.0,0.04],[2002.1,0.09],[2002.2,0.12],[2002.3,0.06],[2002.4,0.02],[2002.5,0.1],[2002.6,0.07],[2002.7,0.11],[2002.8,0.04],[2002.9,0.08],[2003.0,0.12],[2003.1,0.03],[2003.2,0.09],[2003.3,0.06],[2003.4,0.11],[2003.5,0.02],[2003.6,0.08],[2003.7,0.12],[2003.8,0.05],[2003.9,0.09],[2004.0,0.03],[2004.1,0.11],[2004.2,0.07],[2004.3,0.13],[2004.4,0.16],[2004.5,0.05],[2004.6,0.1],[2004.7,0.02],[2004.8,0.08],[2004.9,0.12],
  [2005.0,0.04],[2005.1,0.09],[2005.2,0.06],[2005.3,0.11],[2005.4,0.02],[2005.5,0.08],[2005.6,0.13],[2005.7,0.05],[2005.8,0.1],[2005.9,0.03],[2006.0,0.07],[2006.1,0.12],[2006.2,0.04],[2006.3,0.09],[2006.4,0.06],[2006.5,0.11],[2006.6,0.02],[2006.7,0.08],[2006.8,0.12],[2006.9,0.05],[2007.0,0.1],[2007.1,0.03],[2007.2,0.07],[2007.35,0.15],[2007.4,0.11],[2007.5,0.05],[2007.6,0.09],[2007.7,0.02],[2007.8,0.12],[2007.9,0.06],[2008.0,0.1],[2008.1,0.04],[2008.2,0.08],[2008.3,0.13],[2008.4,0.05],[2008.5,0.09],[2008.6,0.02],[2008.7,0.11],[2008.8,0.07],[2008.9,0.12],[2009.0,0.04],[2009.1,0.09],[2009.2,0.06],[2009.3,0.13],[2009.4,0.03],[2009.5,0.08],[2009.6,0.11],[2009.7,0.05],[2009.8,0.1],[2009.9,0.02],
  [2010.0,0.07],[2010.1,0.12],[2010.2,0.04],[2010.3,0.09],[2010.4,0.06],[2010.5,0.11],[2010.6,0.02],[2010.7,0.08],[2010.8,0.12],[2010.9,0.05],[2011.0,0.1],[2011.1,0.03],[2011.2,0.07],[2011.3,0.11],[2011.4,0.05],[2011.5,0.17],[2011.6,0.165],[2011.7,0.09],[2011.8,0.02],[2011.9,0.08],[2012.0,0.12],[2012.1,0.04],[2012.2,0.1],[2012.3,0.06],[2012.4,0.13],[2012.5,0.03],[2012.6,0.08],[2012.7,0.11],[2012.8,0.05],[2012.9,0.09],[2013.0,0.14],[2013.1,0.02],[2013.2,0.07],[2013.3,0.11],[2013.4,0.04],[2013.5,0.09],[2013.6,0.06],[2013.7,0.12],[2013.8,0.03],[2013.9,0.08],[2014.0,0.11],[2014.1,0.05],[2014.2,0.1],[2014.3,0.02],[2014.4,0.07],[2014.5,0.12],[2014.6,0.04],[2014.7,0.09],[2014.8,0.13],[2014.9,0.06],[2015.0,0.1],[2015.1,0.03],[2015.2,0.08],[2015.3,0.12],[2015.4,0.05],[2015.5,0.09],[2015.6,0.02],[2015.7,0.11],[2015.8,0.07],[2015.9,0.1],[2016.0,0.04],
  [1980.35,0.01],[1981.1,0.0],[1982.05,0.04],[1983.25,0.0],[1984.15,0.01],[1985.25,0.0],[1986.1,0.03],[1987.0,0.0],[1988.25,0.02],[1989.15,0.0],[1990.25,0.03],[1991.45,0.01],[1992.35,0.0],[1993.25,0.04],[1994.25,0.0],[1995.25,0.02],[1996.35,0.0],[1997.25,0.03],[1998.15,0.0],[1999.05,0.02],[2000.15,0.0],[2001.05,0.04],[2002.35,0.0],[2003.25,0.02],[2004.15,0.0],[2005.05,0.01],[2006.15,0.0],[2007.05,0.02],[2008.05,0.0],[2009.05,0.01],[2010.05,0.0],[2011.05,0.02],[2012.05,0.0],[2013.05,0.01],[2014.05,0.0],[2015.05,0.02]
]

const fontFamily = '"Liberation Sans", Arial, Helvetica, sans-serif'

var panelFrame = {
  id: 'panelFrame',
  beforeDraw: function (chart) {
    var a = chart.chartArea, ctx = chart.ctx
    ctx.save()
    ctx.fillStyle = '#ffffcc'
    ctx.fillRect(a.left, a.top, a.right - a.left, a.bottom - a.top)
    ctx.restore()
  },
  beforeDatasetsDraw: function (chart) {
    var a = chart.chartArea, ctx = chart.ctx
    ctx.save()
    ctx.strokeStyle = '#3535cf'
    ctx.lineWidth = 2
    ctx.strokeRect(a.left, a.top, a.right - a.left, a.bottom - a.top)
    ctx.restore()
  },
  afterDraw: function (chart, args, opts) {
    var ctx = chart.ctx
    ctx.save()
    ctx.font = '27px ' + fontFamily
    ctx.fillStyle = '#111'
    ctx.textAlign = opts.align
    ctx.textBaseline = 'alphabetic'
    ctx.fillText(opts.title, opts.x, opts.y)
    ctx.restore()
  }
}

var panels = [
  { id: 'c1', title: 'Neuse at Clayton', pts: claytonPts, yw: 99, pr: 6, tx: 718, ty: 43, align: 'right' },
  { id: 'c2', title: 'Contentnea at Hookerton', pts: contentneaPts, yw: 72, pr: 13, tx: 677, ty: 49, align: 'right' },
  { id: 'c3', title: 'Neuse at Kinston', pts: kinstonPts, yw: 99, pr: 6, tx: 142, ty: 51, align: 'left' },
  { id: 'c4', title: 'Trent at Trenton', pts: trentPts, yw: 72, pr: 13, tx: 110, ty: 49, align: 'left' },
  { id: 'c5', title: 'Neuse at Ft Barnwell', pts: barnwellPts, yw: 99, pr: 6, tx: 117, ty: 50, align: 'left' },
  { id: 'c6', title: 'Neuse at Streets Ferry', pts: streetsPts, yw: 72, pr: 13, tx: 105, ty: 51, align: 'left' }
]

panels.forEach(function (p) {
  var tickFont = { family: fontFamily, size: 18 }
  new Chart(document.getElementById(p.id), {
    type: 'scatter',
    data: {
      datasets: [{
        data: p.pts.map(function (d) { return { x: d[0], y: d[1] } }),
        pointRadius: 3,
        pointBackgroundColor: '#2f60e0',
        pointBorderColor: '#0b1845',
        pointBorderWidth: 1
      }]
    },
    options: {
      responsive: false,
      animation: false,
      events: [],
      layout: { padding: { top: 17, left: 0, right: p.pr, bottom: 0 } },
      plugins: {
        legend: { display: false },
        tooltip: { enabled: false },
        panelFrame: { title: p.title, x: p.tx, y: p.ty, align: p.align }
      },
      scales: {
        x: {
          type: 'linear',
          min: xMin,
          max: xMax,
          afterBuildTicks: function (s) { s.ticks = xTickYears.map(function (v) { return { value: v } }) },
          afterFit: function (s) { s.height = 36 },
          border: { display: false },
          grid: { drawOnChartArea: false, drawTicks: true, tickLength: 6, color: '#8c8c8c', lineWidth: 1 },
          ticks: {
            font: tickFont, color: '#222', padding: 7, maxRotation: 0, autoSkip: false,
            callback: function (v) { return '1/1/' + v }
          }
        },
        y: {
          min: 0,
          max: 2,
          afterBuildTicks: function (s) { s.ticks = yTickValues.map(function (v) { return { value: v } }) },
          afterFit: function (s) { s.width = p.yw },
          border: { display: false },
          grid: { color: '#999999', lineWidth: 1.4, tickLength: 6 },
          ticks: {
            font: tickFont, color: '#222', padding: 6,
            callback: function (v) { return Number(v).toFixed(1) }
          }
        }
      }
    },
    plugins: [panelFrame]
  })
})
</script>
</body>
</html>
